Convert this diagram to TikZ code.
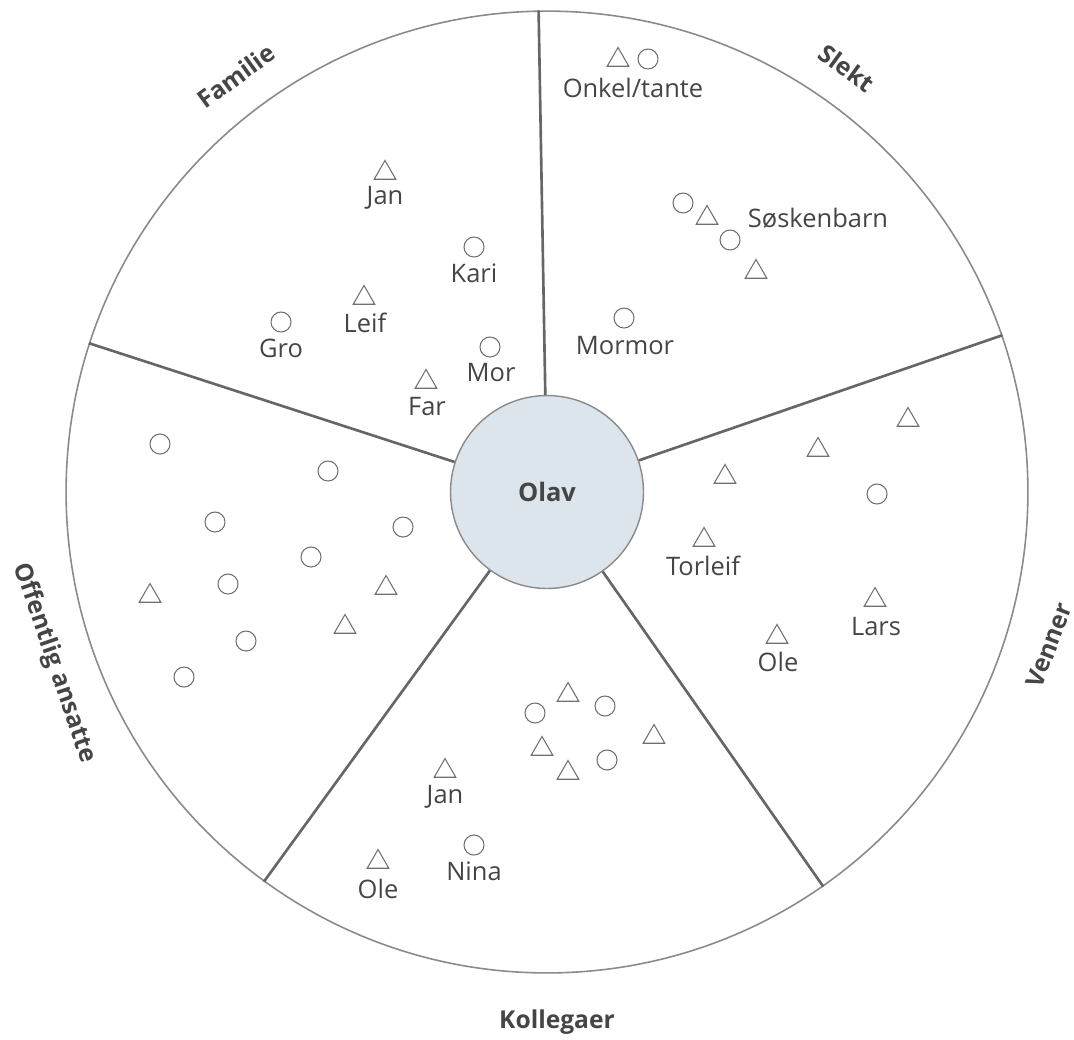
\documentclass[tikz,border=0pt]{standalone}
\usepackage{fontspec}
\setmainfont{Open Sans}
\usetikzlibrary{shapes.geometric}
\definecolor{linecol}{HTML}{666666}
\definecolor{rimcol}{HTML}{8A8A8A}
\definecolor{symcol}{HTML}{707070}
\definecolor{txtcol}{HTML}{454545}
\definecolor{hubfill}{HTML}{DCE5EB}
\begin{document}
\begin{tikzpicture}[x=0.02cm,y=-0.02cm,
  tri/.style={draw=symcol, line width=0.6pt, regular polygon, regular polygon sides=3, minimum size=5mm, inner sep=0pt},
  ring/.style={draw=symcol, line width=0.6pt, circle, minimum size=4mm, inner sep=0pt},
  lab/.style={text=txtcol, font=\fontsize{14.5}{16}\selectfont, inner sep=0pt},
  cat/.style={text=txtcol, font=\bfseries\fontsize{14}{16}\selectfont, inner sep=0pt},
  divider/.style={draw=linecol, line width=1.5pt}]
\useasboundingbox (0,0) rectangle (1074,1039);
\coordinate (C) at (547,492);
\node[circle, draw=rimcol, line width=0.9pt, minimum size=19.24cm, inner sep=0pt] (rim) at (C) {};
\node[circle, draw=rimcol, fill=hubfill, line width=0.8pt, minimum size=3.86cm, inner sep=0pt, text=txtcol, font=\bfseries\fontsize{14.5}{16}\selectfont] (hub) at (C) {Olav};
% dividers
\draw[divider] (hub.91) -- (rim.91);
\draw[divider] (hub.19) -- (rim.19);
\draw[divider] (hub.-55.5) -- (rim.-55.5);
\draw[divider] (hub.-126) -- (rim.-126);
\draw[divider] (hub.162) -- (rim.162);
% category labels
\node[cat, rotate=36] (catFam) at (236,76) {Familie};
\node[cat, rotate=-36] (catSle) at (847,68) {Slekt};
\node[cat, rotate=69] (catVen) at (1049,645) {Venner};
\node[cat, rotate=-71] (catOff) at (54,663) {Offentlig ansatte};
\node[cat] (catKol) at (557,1022) {Kollegaer};
% Familie
\node[tri] (fJanS) at (385,173) {}; \node[lab] (fJan) at (385,198) {Jan};
\node[ring] (fKariS) at (474,247) {}; \node[lab] (fKari) at (474,273) {Kari};
\node[tri] (fLeifS) at (364,298) {}; \node[lab] (fLeif) at (365,323) {Leif};
\node[ring] (fGroS) at (281,322) {}; \node[lab] (fGro) at (281,348) {Gro};
\node[ring] (fMorS) at (490,347) {}; \node[lab] (fMor) at (491,373) {Mor};
\node[tri] (fFarS) at (426,382) {}; \node[lab] (fFar) at (427,407) {Far};
% Slekt
\node[tri] (sOnkS) at (618,60) {}; \node[ring] (sTanS) at (648,59) {};
\node[lab] (sOnk) at (633,88) {Onkel/tante};
\node[ring] (sS1) at (683,203) {}; \node[tri] (sS2) at (707,218) {};
\node[ring] (sS3) at (730,240) {}; \node[tri] (sS4) at (756,272) {};
\node[lab] (sSos) at (818,218) {Søskenbarn};
\node[ring] (sMorS) at (624,318) {}; \node[lab] (sMor) at (625,346) {Mormor};
% Venner
\node[tri] (v1) at (908,420) {};
\node[tri] (v2) at (818,450) {};
\node[tri] (v3) at (725,477) {};
\node[ring] (v4) at (877,494) {};
\node[tri] (vTorS) at (704,540) {}; \node[lab] (vTor) at (703,566) {Torleif};
\node[tri] (vLarS) at (875,600) {}; \node[lab] (vLar) at (876,627) {Lars};
\node[tri] (vOleS) at (777,637) {}; \node[lab] (vOle) at (778,662) {Ole};
% Kollegaer
\node[tri] (k1) at (568,695) {};
\node[ring] (k2) at (535,713) {};
\node[ring] (k3) at (605,706) {};
\node[tri] (k4) at (654,737) {};
\node[tri] (k5) at (542,749) {};
\node[ring] (k6) at (607,760) {};
\node[tri] (k7) at (568,773) {};
\node[tri] (kJanS) at (445,771) {}; \node[lab] (kJan) at (445,797) {Jan};
\node[ring] (kNinS) at (474,845) {}; \node[lab] (kNin) at (474,871) {Nina};
\node[tri] (kOleS) at (378,862) {}; \node[lab] (kOle) at (378,889) {Ole};
% Offentlig ansatte
\node[ring] (o1) at (160,444) {};
\node[ring] (o2) at (328,471) {};
\node[ring] (o3) at (215,522) {};
\node[ring] (o4) at (403,527) {};
\node[ring] (o5) at (311,557) {};
\node[ring] (o6) at (228,584) {};
\node[tri] (o7) at (386,588) {};
\node[tri] (o8) at (150,596) {};
\node[tri] (o9) at (345,627) {};
\node[ring] (o10) at (246,641) {};
\node[ring] (o11) at (184,677) {};
\end{tikzpicture}
\end{document}
